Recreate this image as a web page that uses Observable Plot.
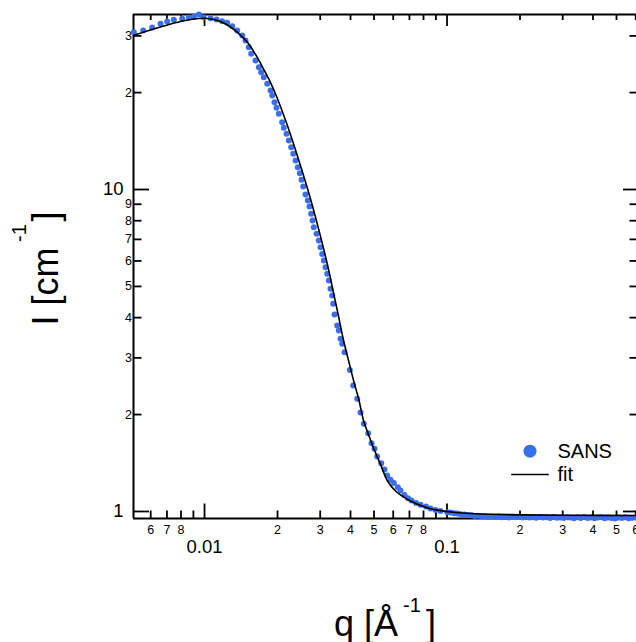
<!DOCTYPE html>
<html><head><meta charset="utf-8">
<script src="https://cdn.jsdelivr.net/npm/d3@7"></script>
<script src="https://cdn.jsdelivr.net/npm/@observablehq/plot@0.6"></script>
<style>html,body{margin:0;padding:0;background:#fff;} svg{display:block;}</style>
</head><body><div id="chart"></div>
<script>
// SANS data points
const sansQ = [0.00511,0.005587,0.006086,0.006586,0.007018,0.007471,0.008091,0.008617,0.009035,0.009473,
  0.009906,0.01059,0.01121,0.01183,0.0124,0.01301,0.01364,0.01431,0.01476,0.01523,
  0.01558,0.01623,0.01675,0.01713,0.01756,0.01814,0.01872,0.01902,0.01944,0.01981,
  0.02025,0.02091,0.02123,0.02178,0.02227,0.02278,0.02322,0.02373,0.02425,0.02472,
  0.02512,0.02553,0.02609,0.02667,0.0271,0.02754,0.02789,0.02823,0.02897,0.0296,0.03009,
  0.03058,0.03105,0.03155,0.03206,0.03255,0.03308,0.03362,0.03394,0.03436,0.03525,
  0.03579,0.03637,0.03696,0.03778,0.03974,0.04104,0.04263,0.04398,0.04538,0.04732,
  0.04883,0.05023,0.05153,0.05354,0.05525,0.05668,0.05848,0.06034,0.06268,0.0643,
  0.06679,0.06906,0.07138,0.07451,0.07777,0.08193,0.08551,0.08966,0.09402,0.1002,
  0.1035,0.107,0.1105,0.114,0.118,0.122,0.126,0.130,0.1345,0.139,
  0.1435,0.148,0.153,0.158,0.163,0.168,0.174,0.180,0.186,0.192,
  0.198,0.205,0.212,0.219,0.226,0.233,0.241,0.249,0.257,0.266,
  0.275,0.284,0.293,0.303,0.313,0.323,0.334,0.345,0.356,0.368,
  0.380,0.393,0.406,0.419,0.433,0.447,0.462,0.477,0.493,0.509,
  0.526,0.543,0.561,0.579,0.598];
const sansI = [30.8,31.18,31.85,32.7,33.25,33.65,33.9,34.2,34.4,34.95,
  34.3,34.04,33.73,33.3,32.94,32.15,31.18,30.08,29.02,27.66,
  26.39,25.15,23.98,23.14,22.33,21.29,20.3,19.58,18.67,17.94,
  17.18,16.18,15.55,14.89,14.2,13.53,12.91,12.31,11.73,11.23,
  10.72,10.22,9.65,9.24,8.86,8.41,8.01,7.64,7.29,6.94,6.62,
  6.31,6.02,5.74,5.47,5.22,4.92,4.69,4.42,4.09,3.78,
  3.65,3.44,3.32,3.12,2.75,2.46,2.24,2.03,1.873,1.751,
  1.63,1.566,1.482,1.413,1.35,1.294,1.254,1.225,1.19,1.162,
  1.125,1.099,1.082,1.063,1.049,1.036,1.022,1.011,1.004,0.995,
  0.992,0.988,0.985,0.981,0.978,0.975,0.973,0.969,0.970,0.966,
  0.967,0.963,0.965,0.961,0.964,0.960,0.962,0.958,0.963,0.959,
  0.961,0.957,0.962,0.958,0.960,0.956,0.961,0.957,0.959,0.955,
  0.962,0.956,0.958,0.954,0.960,0.957,0.953,0.959,0.955,0.961,
  0.954,0.958,0.952,0.957,0.960,0.953,0.958,0.955,0.951,0.957,
  0.954,0.959,0.952,0.956,0.958];

// fit curve
const fitQ = [0.005095,0.005802,0.006795,0.007962,0.009035,0.009934,0.01092,0.01183,0.0128,0.01385,
  0.015,0.01623,0.01756,0.01872,0.01994,0.02158,0.02263,0.02488,0.02736,0.03009,
  0.03255,0.03414,0.03536,0.03753,0.03926,0.04128,0.04316,0.04538,0.04745,0.04989,
  0.05319,0.05668,0.06131,0.06636,0.07207,0.07777,0.08551,0.09402,0.1084,0.125,
  0.1512,0.2009,0.3231,0.6045];
const fitI = [30.08,31.06,32.2,33.25,33.85,34.04,33.73,33.08,31.97,30.51,
  28.71,26.27,23.59,21.49,19.24,16.4,14.8,11.85,9.35,7.15,
  5.6,4.72,4.18,3.373,2.944,2.533,2.244,1.904,1.735,1.569,
  1.4,1.248,1.158,1.108,1.07,1.044,1.02,1.006,0.9929,0.9858,
  0.9802,0.976,0.9732,0.9718];

// ticks and labels
const xMajorTicks = [0.01, 0.1];
const xMajorLabels = ["0.01", "0.1"];
const xMinorTicks = [0.006,0.007,0.008,0.009,0.02,0.03,0.04,0.05,0.06,0.07,0.08,0.09,0.2,0.3,0.4,0.5,0.6];
const xMinorLabelTicks = [0.006,0.007,0.008,0.02,0.03,0.04,0.05,0.06,0.07,0.08,0.2,0.3,0.4,0.5,0.6];
const xMinorLabels = ["6","7","8","2","3","4","5","6","7","8","2","3","4","5","6"];
const yMajorTicks = [1, 10];
const yMajorLabels = ["1", "10"];
const yMinorTicks = [2,3,4,5,6,7,8,9,20,30];
const yMinorLabels = ["2","3","4","5","6","7","8","9","2","3"];
const xDomain = [0.005095, 0.6045];
const yDomain = [0.951, 34.96];

const seriesNames = ["SANS", "fit"];
const xTitle = ["q [Å", "-1", "]"];
const yTitle = ["I [cm", "-1", "]"];

const blue = "#3b6ee9";
const sans = sansQ.map((q, i) => ({q, I: sansI[i]}));
const fit = fitQ.map((q, i) => ({q, I: fitI[i]}));
const fmt = (ticks, labels) => { const m = new Map(ticks.map((t, i) => [t, labels[i]])); return d => m.get(d); };

const W = 636, H = 642, ML = 133, MR = 0, MT = 14, MB = 124;
const FW = W - ML - MR, FH = H - MT - MB;
// tick lengths along y expressed through the log y scale (pixels per decade)
const pxPerDecY = FH / Math.log10(yDomain[1] / yDomain[0]);
const yUp = px => yDomain[0] * Math.pow(10, px / pxPerDecY);     // px above the bottom edge
const yDown = px => yDomain[1] * Math.pow(10, -px / pxPerDecY);  // px below the top edge
const tickStyle = {stroke: "black", strokeWidth: 1.8};
const lineSymbol = { draw(ctx) { ctx.moveTo(-18.8, 0); ctx.lineTo(18.8, 0); } };

const chart = Plot.plot({
  width: W, height: H,
  marginLeft: ML, marginRight: MR, marginTop: MT, marginBottom: MB,
  x: {type: "log", domain: xDomain, axis: null},
  y: {type: "log", domain: yDomain, axis: null},
  style: {fontFamily: "'Liberation Sans', Arial, sans-serif", color: "black", background: "white"},
  marks: [
    // frame lines
    Plot.ruleX([xDomain[0]], {stroke: "black", strokeWidth: 2}),
    Plot.ruleY([yDomain[0], yDomain[1]], {stroke: "black", strokeWidth: 2}),
    // inward ticks: left, right
    Plot.tickY(yMinorTicks, {y: d => d, insetRight: FW - 8.5, ...tickStyle}),
    Plot.tickY(yMajorTicks, {y: d => d, insetRight: FW - 16, ...tickStyle}),
    Plot.tickY(yMinorTicks, {y: d => d, insetLeft: FW - 6.5, ...tickStyle}),
    Plot.tickY(yMajorTicks, {y: d => d, insetLeft: FW - 13, ...tickStyle}),
    // inward ticks: bottom, top
    Plot.ruleX(xMinorTicks, {x: d => d, y1: yDomain[0], y2: yUp(7.5), ...tickStyle}),
    Plot.ruleX(xMajorTicks, {x: d => d, y1: yDomain[0], y2: yUp(14.5), ...tickStyle}),
    Plot.ruleX(xMinorTicks, {x: d => d, y1: yDomain[1], y2: yDown(6), ...tickStyle}),
    Plot.ruleX(xMajorTicks, {x: d => d, y1: yDomain[1], y2: yDown(12), ...tickStyle}),
    // tick labels
    Plot.text(yMinorTicks, {y: d => d, frameAnchor: "left", dx: -1.5, textAnchor: "end", lineAnchor: "middle", fontSize: 12.5, text: fmt(yMinorTicks, yMinorLabels)}),
    Plot.text(yMajorTicks, {y: d => d, frameAnchor: "left", dx: -10, textAnchor: "end", lineAnchor: "middle", fontSize: 18.5, text: fmt(yMajorTicks, yMajorLabels)}),
    Plot.text(xMinorLabelTicks, {x: d => d, frameAnchor: "bottom", dy: 6.5, lineAnchor: "top", fontSize: 12.5, text: fmt(xMinorLabelTicks, xMinorLabels)}),
    Plot.text(xMajorTicks, {x: d => d, frameAnchor: "bottom", dy: 21.5, lineAnchor: "top", fontSize: 18.5, text: fmt(xMajorTicks, xMajorLabels)}),
    // data
    Plot.dot(sans, {x: "q", y: "I", r: 3, fill: blue, stroke: null}),
    Plot.line(fit, {x: "q", y: "I", stroke: "black", strokeWidth: 1.6, curve: "catmull-rom"}),
    // legend
    Plot.dot([seriesNames[0]], {frameAnchor: "top-left", dx: 529.5 - ML, dy: 450.7 - MT, r: 6.5, fill: blue, stroke: null}),
    Plot.dot([seriesNames[1]], {frameAnchor: "top-left", dx: 529.5 - ML, dy: 474 - MT, symbol: lineSymbol, r: 5, fill: "none", stroke: "black", strokeWidth: 1.5}),
    Plot.text([seriesNames[0]], {frameAnchor: "top-left", dx: 557 - ML, dy: 457.3 - MT, text: d => d, textAnchor: "start", lineAnchor: "bottom", fontSize: 20}),
    Plot.text([seriesNames[1]], {frameAnchor: "top-left", dx: 557 - ML, dy: 480 - MT, text: d => d, textAnchor: "start", lineAnchor: "bottom", fontSize: 20}),
    // x title
    Plot.text([xTitle[0]], {frameAnchor: "top-left", dx: 333.5 - ML, dy: 635 - MT, text: d => d, textAnchor: "start", lineAnchor: "bottom", fontSize: 36}),
    Plot.text([xTitle[1]], {frameAnchor: "top-left", dx: 402.5 - ML, dy: 611.7 - MT, text: d => d, textAnchor: "start", lineAnchor: "bottom", fontSize: 20}),
    Plot.text([xTitle[2]], {frameAnchor: "top-left", dx: 425.5 - ML, dy: 635 - MT, text: d => d, textAnchor: "start", lineAnchor: "bottom", fontSize: 36}),
    // y title (rotated)
    Plot.text([yTitle[0]], {frameAnchor: "top-left", dx: 57.5 - ML, dy: 325 - MT, rotate: -90, text: d => d, textAnchor: "start", lineAnchor: "bottom", fontSize: 36}),
    Plot.text([yTitle[1]], {frameAnchor: "top-left", dx: 25.5 - ML, dy: 241.5 - MT, rotate: -90, text: d => d, textAnchor: "start", lineAnchor: "bottom", fontSize: 20}),
    Plot.text([yTitle[2]], {frameAnchor: "top-left", dx: 57.5 - ML, dy: 221 - MT, rotate: -90, text: d => d, textAnchor: "start", lineAnchor: "bottom", fontSize: 36})
  ]
});
document.getElementById("chart").appendChild(chart);
</script>
</body></html>
